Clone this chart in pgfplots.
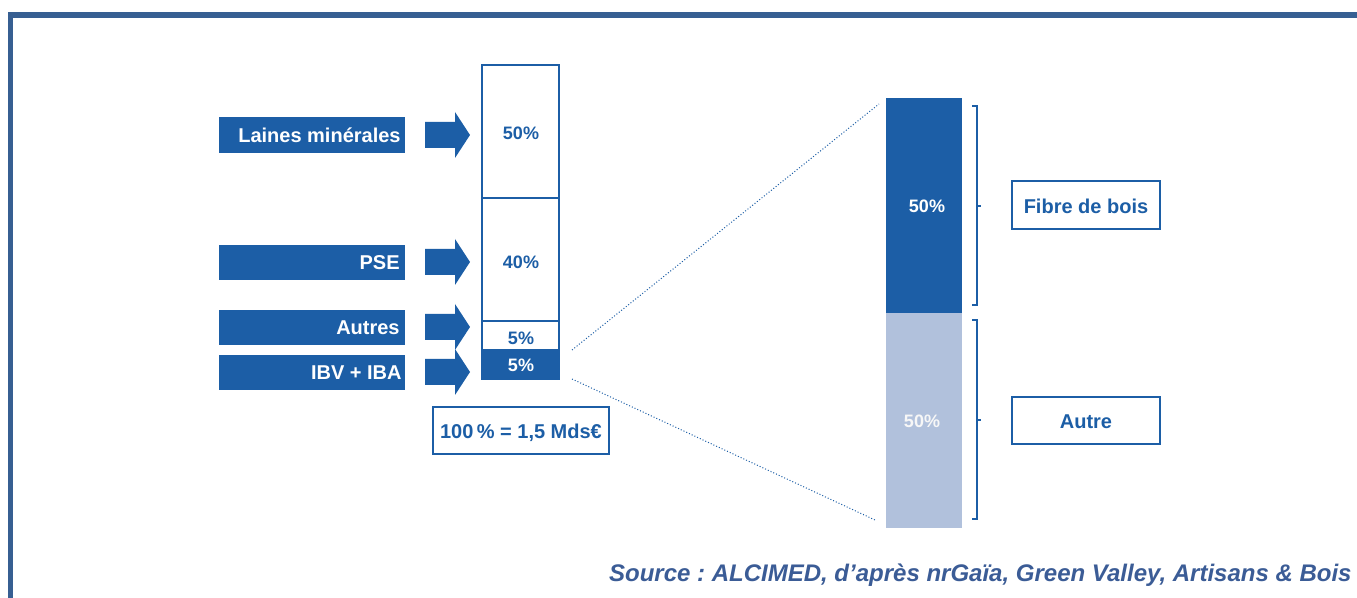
\documentclass[border=0pt]{standalone}
\usepackage{pgfplots}
\pgfplotsset{compat=1.18}
\usepackage{fontspec}
\setmainfont{Liberation Sans}
\frenchspacing
\definecolor{dblue}{HTML}{1C5EA6}
\definecolor{lblue}{HTML}{B1C1DC}
\definecolor{framec}{HTML}{375F92}
\definecolor{src}{HTML}{3B5C96}
\tikzset{lab/.style={font=\fontsize{10}{12}\selectfont\bfseries, inner sep=0pt, text height=7.2pt, text depth=0pt},
  pct/.style={font=\fontsize{9}{11}\selectfont\bfseries, inner sep=0pt, text height=6.45pt, text depth=0pt}}
\pgfplotsset{canvas/.style={at={(0pt,0pt)}, anchor=south west,
  width=678.5pt, height=299pt, scale only axis, hide axis, clip=false,
  xmin=0, xmax=1357, ymin=0, ymax=598, y dir=reverse}}
\newcommand\arrowat[1]{%
  \fill[dblue] (axis cs:425,#1-13) -- (axis cs:455,#1-13) -- (axis cs:455,#1-23)
   -- (axis cs:470,#1) -- (axis cs:455,#1+23) -- (axis cs:455,#1+13)
   -- (axis cs:425,#1+13) -- cycle;}
\begin{document}
\begin{tikzpicture}
% canvas (pixel coordinates, y downwards)
\begin{axis}[canvas]
\addplot[draw=none, forget plot] coordinates {(0,0) (1357,598)};
\fill[white] (axis cs:0,0) rectangle (axis cs:1357,598);
% frame
\fill[framec] (axis cs:8,12) rectangle (axis cs:1357,18);
\fill[framec] (axis cs:8,12) rectangle (axis cs:13,598);
% label boxes
\fill[dblue] (axis cs:219,117) rectangle (axis cs:405,153);
\fill[dblue] (axis cs:219,245) rectangle (axis cs:405,280);
\fill[dblue] (axis cs:219,310) rectangle (axis cs:405,345);
\fill[dblue] (axis cs:219,355) rectangle (axis cs:405,390);
\node[lab, white, anchor=east] at (axis cs:401,135) {Laines minérales};
\node[lab, white, anchor=east] at (axis cs:400,262) {PSE};
\node[lab, white, anchor=east] at (axis cs:400,327) {Autres};
\node[lab, white, anchor=east] at (axis cs:402,372) {IBV + IBA};
% arrows
\arrowat{135}
\arrowat{262}
\arrowat{327}
\arrowat{372}
% 100% box
\draw[dblue, line width=0.6pt] (axis cs:433,407) rectangle (axis cs:609,454);
\node[lab, dblue] at (axis cs:521,431) {100\,\% = 1,5 Mds€};
% dotted zoom lines
\draw[dblue, densely dotted, line width=0.5pt] (axis cs:572,350) -- (axis cs:879,104);
\draw[dblue, densely dotted, line width=0.5pt] (axis cs:572,379) -- (axis cs:875,520);
% brackets
\draw[dblue, line width=0.6pt] (axis cs:972,106) -- (axis cs:977,106) -- (axis cs:977,305) -- (axis cs:972,305);
\draw[dblue, line width=0.6pt] (axis cs:977,206) -- (axis cs:981,206);
\draw[dblue, line width=0.6pt] (axis cs:972,320) -- (axis cs:977,320) -- (axis cs:977,519) -- (axis cs:972,519);
\draw[dblue, line width=0.6pt] (axis cs:977,420) -- (axis cs:981,420);
% right boxes
\draw[dblue, line width=0.6pt] (axis cs:1012,181) rectangle (axis cs:1160,229);
\node[lab, dblue] at (axis cs:1086,206) {Fibre de bois};
\draw[dblue, line width=0.6pt] (axis cs:1012,397) rectangle (axis cs:1160,444);
\node[lab, dblue] at (axis cs:1086,421) {Autre};
% source
\node[font=\fontsize{12}{14}\selectfont\bfseries\itshape, src, inner sep=0pt, text height=8.6pt, text depth=0pt, anchor=east]
  at (axis cs:1352,573) {Source : ALCIMED, d’après nrGaïa, Green Valley, Artisans \& Bois};
\end{axis}
% left stacked bar (segment heights as drawn)
\begin{axis}[at={(241pt,109.5pt)}, anchor=south west, width=38.5pt, height=157pt,
  scale only axis, hide axis, clip=false, ybar stacked, bar width=38.5pt,
  xmin=-0.5, xmax=0.5, ymin=0, ymax=314]
\addplot[fill=dblue, draw=dblue, line width=1pt] coordinates {(0,29)};
\addplot[fill=white, draw=dblue, line width=1pt] coordinates {(0,29)};
\addplot[fill=white, draw=dblue, line width=1pt] coordinates {(0,123)};
\addplot[fill=white, draw=dblue, line width=1pt] coordinates {(0,133)};
\end{axis}
% right stacked bar
\begin{axis}[at={(443pt,35pt)}, anchor=south west, width=38pt, height=215pt,
  scale only axis, hide axis, clip=false, ybar stacked, bar width=38pt,
  xmin=-0.5, xmax=0.5, ymin=0, ymax=100]
\addplot[fill=lblue, draw=none] coordinates {(0,50)};
\addplot[fill=dblue, draw=none] coordinates {(0,50)};
\end{axis}
% overlay: labels in the bars
\begin{axis}[canvas]
\addplot[draw=none, forget plot] coordinates {(0,0) (1357,598)};
\node[pct, dblue] at (axis cs:521,133) {50\%};
\node[pct, dblue] at (axis cs:521,262) {40\%};
\node[pct, dblue] at (axis cs:521,338) {5\%};
\node[pct, white] at (axis cs:521,365) {5\%};
\node[pct, white] at (axis cs:927,206) {50\%};
\node[pct, white!94!gray] at (axis cs:922,421) {50\%};
\end{axis}
\end{tikzpicture}
\end{document}
